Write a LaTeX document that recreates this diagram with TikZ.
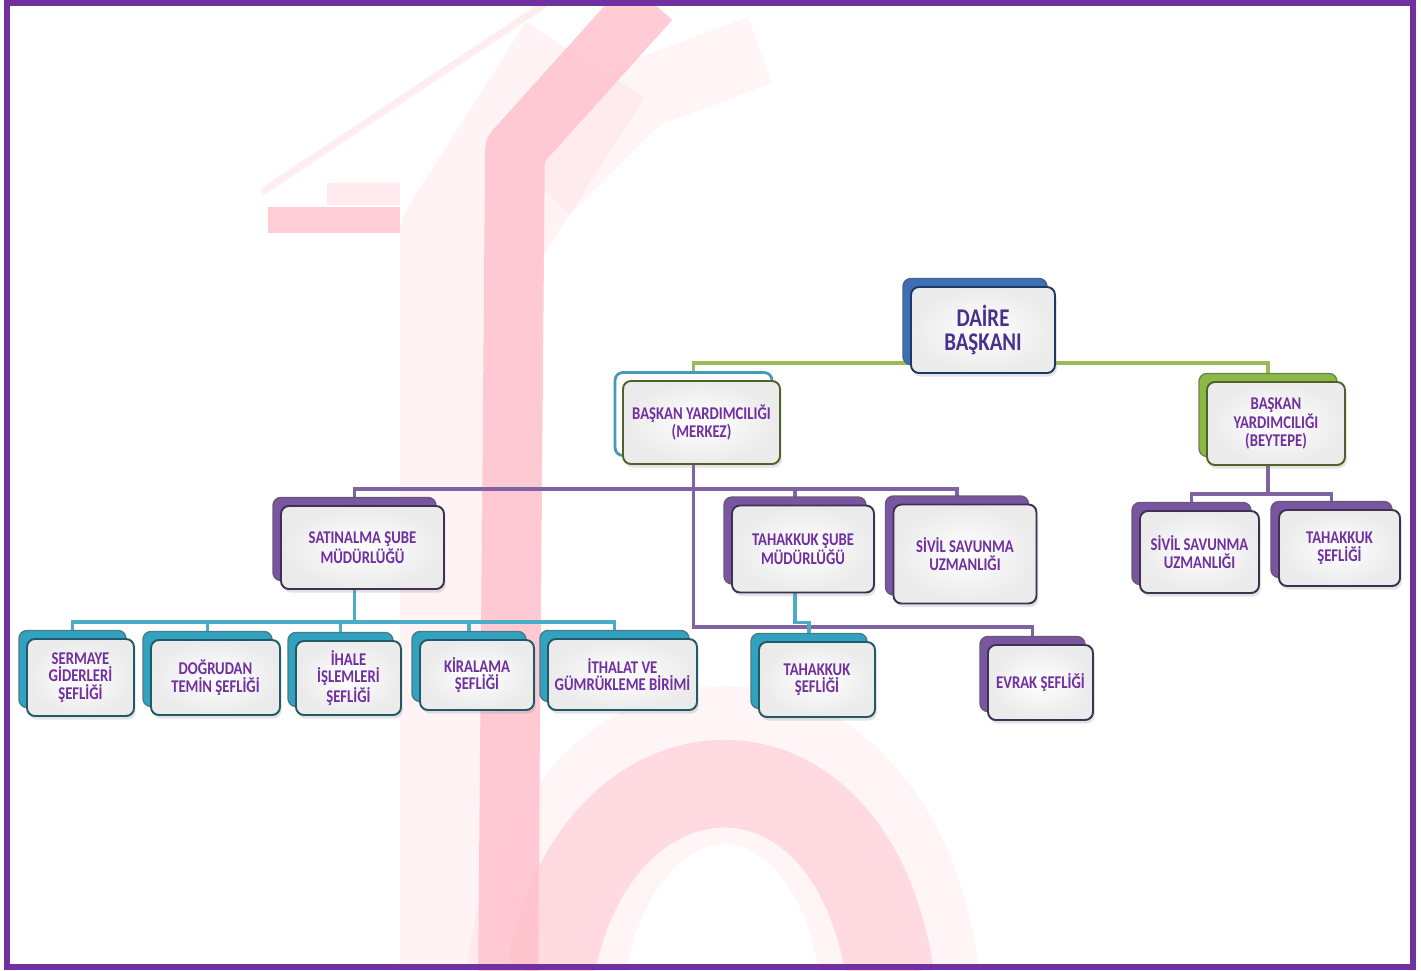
\documentclass[tikz,border=0pt]{standalone}
\usepackage{fontspec}
\setmainfont{Carlito}[FakeStretch=0.82]
\usepackage{tikz}
\usetikzlibrary{shadows, calc}
\pgfdeclarelayer{bg}
\pgfsetlayers{bg,main}
\definecolor{frame}{HTML}{7030A0}
\definecolor{txt}{HTML}{7030A0}
\definecolor{toptxt}{HTML}{47308E}
\definecolor{lnpurple}{HTML}{8064A2}
\definecolor{lncyan}{HTML}{4BACC6}
\definecolor{lngreen}{HTML}{9BBB59}
\definecolor{bkpurple}{HTML}{7A55A2}
\definecolor{edpurple}{HTML}{3F3151}
\definecolor{bkcyan}{HTML}{31A2BF}
\definecolor{edcyan}{HTML}{215967}
\definecolor{bkblue}{HTML}{3B6FB6}
\definecolor{edblue}{HTML}{1F3A60}
\definecolor{bkgreen}{HTML}{8CB847}
\definecolor{edgreen}{HTML}{4F6228}
\definecolor{wm}{RGB}{255,194,205}

\begin{document}
\begin{tikzpicture}[x=0.02cm, y=-0.02cm,
    box/.style={
        rectangle, rounded corners=4.5pt, align=center, inner sep=2pt,
        font=\bfseries\fontsize{10.2}{10}\selectfont, text=txt,
        line width=1.1pt, inner color=white, outer color=black!8,
        drop shadow={shadow xshift=1pt, shadow yshift=-2pt, opacity=.22}
    },
    back/.style={copy shadow={shadow xshift=-0.16cm, shadow yshift=0.17cm, #1}},
    sz/.style 2 args={minimum width=#1cm, minimum height=#2cm},
    pbox/.style={box, draw=edpurple, back={fill=bkpurple, draw=edpurple!80, line width=.8pt}},
    cbox/.style={box, draw=edcyan, back={fill=bkcyan, draw=edcyan!80, line width=.8pt}},
    gbox/.style={box, draw=edgreen, back={fill=bkgreen, draw=edgreen!80, line width=.8pt}},
    wbox/.style={box, draw=edgreen, back={fill=white, draw=lncyan!90!black, line width=1.6pt}},
    topbox/.style={box, draw=edblue, text=toptxt, font=\bfseries\fontsize{14.5}{14.2}\selectfont,
        back={fill=bkblue, draw=edblue!80, line width=.8pt}},
    link/.style={line width=2.2pt},
    wmark/.style={wm, line cap=butt}
]
    \useasboundingbox (0,0) rectangle (1421,971);

    \node[topbox, sz={2.88}{1.72}] (daire)   at (983,330)   {DAİRE\\BAŞKANI};
    \node[wbox,   sz={3.14}{1.66}] (merkez)  at (701.5,422.5) {BAŞKAN YARDIMCILIĞI\\(MERKEZ)};
    \node[gbox,   sz={2.76}{1.66}] (beytepe) at (1276,423.5) {BAŞKAN\\YARDIMCILIĞI\\(BEYTEPE)};

    \node[pbox, sz={3.26}{1.66}] (satin)   at (362.5,547.5) {SATINALMA ŞUBE\\MÜDÜRLÜĞÜ};
    \node[pbox, sz={2.84}{1.74}] (tahsube) at (803,549)     {TAHAKKUK ŞUBE\\MÜDÜRLÜĞÜ};
    \node[pbox, sz={2.86}{1.98}] (sivil)   at (965,554)     {SİVİL SAVUNMA\\UZMANLIĞI};
    \node[pbox, sz={2.38}{1.64}] (sivilb)  at (1199.5,552)  {SİVİL SAVUNMA\\UZMANLIĞI};
    \node[pbox, sz={2.42}{1.52}] (tahsefb) at (1339.5,548)  {TAHAKKUK\\ŞEFLİĞİ};

    \node[cbox, sz={2.14}{1.54}] (serm)   at (80.5,677.5)  {SERMAYE\\GİDERLERİ\\ŞEFLİĞİ};
    \node[cbox, sz={2.58}{1.50}] (dogru)  at (215.5,677.5) {DOĞRUDAN\\TEMİN ŞEFLİĞİ};
    \node[cbox, sz={2.10}{1.48}] (ihale)  at (348.5,678)   {İHALE\\İŞLEMLERİ\\ŞEFLİĞİ};
    \node[cbox, sz={2.28}{1.40}] (kira)   at (477,675)     {KİRALAMA\\ŞEFLİĞİ};
    \node[cbox, sz={2.98}{1.42}] (ithal)  at (622.5,674.5) {İTHALAT VE\\GÜMRÜKLEME BİRİMİ};
    \node[cbox, sz={2.32}{1.50}] (tahsef) at (817,679.5)   {TAHAKKUK\\ŞEFLİĞİ};
    \node[pbox, sz={2.10}{1.50}] (evrak)  at (1040.5,682.5) {EVRAK ŞEFLİĞİ};

    \begin{pgfonlayer}{bg}
        % watermark
        \draw[wmark, line width=4pt, opacity=.3] (262,192) -- (545,4);
        \draw[wmark, line width=12pt, opacity=.35] (327,194) -- (400,194);
        \draw[wmark, line width=15pt, opacity=.8] (268,220) -- (400,220);
        \draw[wmark, line width=40pt, opacity=.18, line join=round] (760,50) -- (640,95) -- (545,190);
        \draw[wmark, line width=80pt, opacity=.2, line join=round] (585,60) -- (470,240) -- (470,975);
        \draw[wmark, line width=34pt, opacity=.85, line join=round] (650,0) -- (515,150) -- (508,975);
        \draw[wmark, line width=90pt, opacity=.18] (545,975) .. controls (585,700) and (860,690) .. (900,975);
        \draw[wmark, line width=50pt, opacity=.5] (550,975) .. controls (590,730) and (850,710) .. (890,975);

        \foreach \c in {merkez, beytepe}
            \draw[link, lngreen] ([yshift=0.22cm]daire.south) -| ([xshift=-0.16cm]\c.north);
        \foreach \p/\c/\d in {merkez/satin/24, merkez/tahsube/24, merkez/sivil/24, merkez/evrak/162,
                              beytepe/sivilb/28, beytepe/tahsefb/28}
            \draw[link, lnpurple] ([xshift=-0.16cm]\p.south) -- ++(0,\d) -| ([xshift=-0.16cm]\c.north);
        \foreach \p/\c/\d in {satin/serm/32, satin/dogru/32, satin/ihale/32, satin/kira/32,
                              satin/ithal/32, tahsube/tahsef/29}
            \draw[link, lncyan] ([xshift=-0.16cm]\p.south) -- ++(0,\d) -| ([xshift=-0.16cm]\c.north);
    \end{pgfonlayer}

    \draw[frame, line width=3.4pt] (7,3) rectangle (1413,967);
\end{tikzpicture}
\end{document}
